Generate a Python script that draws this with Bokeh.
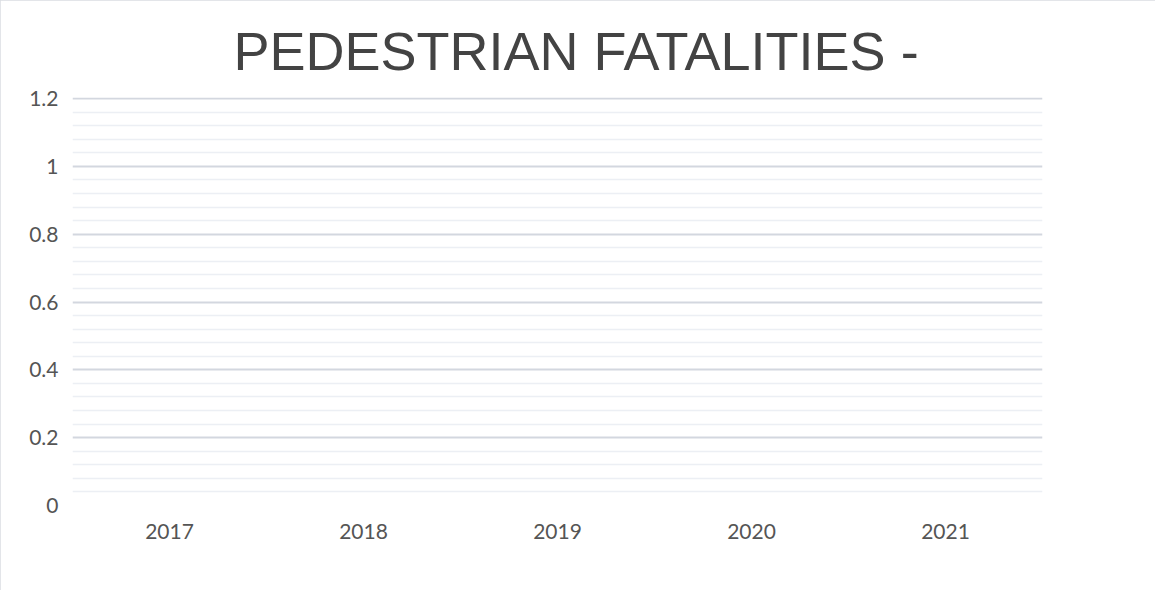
from bokeh.plotting import figure
from bokeh.models import ColumnDataSource, Range1d, FixedTicker, Title
from bokeh.embed import file_html
from bokeh.resources import INLINE

years = ["2017", "2018", "2019", "2020", "2021"]
fatalities = [0, 0, 0, 0, 0]
y_ticks = [0, 0.2, 0.4, 0.6, 0.8, 1.0, 1.2]
y_tick_labels = {0: "0", 0.2: "0.2", 0.4: "0.4", 0.6: "0.6", 0.8: "0.8", 1.0: "1", 1.2: "1.2"}
minor_ticks = [round(i * 0.04, 2) for i in range(31) if i % 5 != 0]
title_text = "PEDESTRIAN FATALITIES -"

src = ColumnDataSource(dict(year=years, value=fatalities))

p = figure(x_range=years, y_range=Range1d(0, 1.203), width=1155, height=590,
           output_backend="svg", toolbar_location=None, tools="",
           min_border_left=72, min_border_right=113, min_border_top=97, min_border_bottom=85)
p.styles = {"outline": "1px solid #dadde2", "outline-offset": "-1px"}

t = Title(text=title_text, align="left", offset=161, text_font="Liberation Sans",
          text_font_size="54px", text_font_style="normal", text_color="#434343",
          standoff=34, text_line_height=0.7)
p.add_layout(t, "above")

p.vbar(x="year", top="value", width=0.6, source=src, fill_color="#4472C4", line_color=None)

p.outline_line_color = None
p.background_fill_color = "white"
p.border_fill_color = "white"

p.xgrid.grid_line_color = None
p.ygrid.ticker = FixedTicker(ticks=y_ticks, minor_ticks=minor_ticks)
p.ygrid.grid_line_color = "#d3d7df"
p.ygrid.grid_line_width = 2
p.ygrid.minor_grid_line_color = "#eceff4"
p.ygrid.minor_grid_line_width = 1.5

p.yaxis.ticker = FixedTicker(ticks=y_ticks)
p.yaxis.major_label_overrides = y_tick_labels
p.yaxis.major_label_text_align = "left"
p.yaxis.major_label_standoff = 14
for ax in (p.xaxis, p.yaxis):
    ax.axis_line_color = None
    ax.major_tick_line_color = None
    ax.minor_tick_line_color = None
    ax.major_tick_out = 0
    ax.minor_tick_out = 0
    ax.major_label_text_font = "Lato"
    ax.major_label_text_font_size = "21px"
    ax.major_label_text_color = "#555555"
p.xaxis.major_label_standoff = 18

open("out.html", "w").write(file_html(p, INLINE))
